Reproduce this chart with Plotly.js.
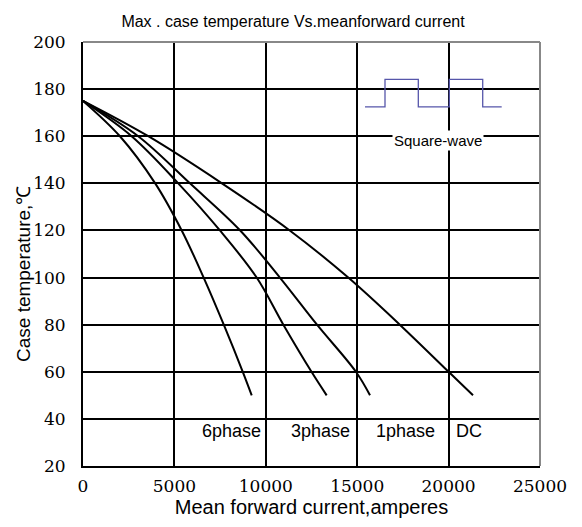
<!DOCTYPE html>
<html>
<head>
<meta charset="utf-8">
<script src="https://cdn.plot.ly/plotly-3.0.1.min.js"></script>
<style>html,body{margin:0;padding:0;background:#fff;}#chart{width:582px;height:527px;}</style>
</head>
<body>
<div id="chart"></div>
<script>
// Case temperature (°C) sample levels
var temps = [175, 160, 140, 120, 100, 80, 60, 50];
// Mean forward current (A) at each temperature level
var sixPhase   = [0, 2020, 3950, 5400, 6600, 7700, 8740, 9230];
var threePhase = [0, 2660, 5210, 7490, 9500, 10960, 12500, 13330];
var onePhase   = [0, 3020, 5850, 8600, 10770, 12800, 14930, 15700];
var dcCurrent  = [0, 3570, 7600, 11310, 14510, 17330, 20000, 21335];

var curveNames = ['6phase', '3phase', '1phase', 'DC'];
var labelX = [231, 320, 405, 454];  // label positions in px

// Inset square-wave symbol
var sqX = [15427, 16521, 16521, 18343, 18343, 20039, 20039, 21866, 21866, 22905];
var sqY = [172.5, 172.5, 184.1, 184.1, 172.5, 172.5, 184.1, 184.1, 172.5, 172.5];

var xTicks = [0, 5000, 10000, 15000, 20000, 25000];
var yTicks = [20, 40, 60, 80, 100, 120, 140, 160, 180, 200];

var L = 83, R = 540, T = 42, B = 466, W = 582, H = 527;
function px2x(px){ return (px - L) / (R - L) * 25000; }
function py2y(py){ return 200 - (py - T) / (B - T) * 180; }

var SANS = "Liberation Sans";
var SERIF = "DejaVu Serif";

var series = [sixPhase, threePhase, onePhase, dcCurrent];
var traces = series.map(function(s, i){
  return {x: s, y: temps, mode: 'lines', name: curveNames[i],
          line: {color: '#000', width: 2, shape: 'spline', smoothing: 1},
          hoverinfo: 'x+y', showlegend: false};
});
traces.push({x: sqX, y: sqY, mode: 'lines', line: {color: '#5656aa', width: 1.3},
             hoverinfo: 'skip', showlegend: false});

var annotations = curveNames.map(function(n, i){
  return {text: n, x: px2x(labelX[i]), y: py2y(431), xref: 'x', yref: 'y',
          showarrow: false, font: {family: SANS, size: 18, color: '#000'},
          xanchor: i === 3 ? 'left' : 'center', yanchor: 'middle'};
});
annotations.push({text: 'Square-wave', x: px2x(438), y: py2y(140), xref: 'x', yref: 'y',
  showarrow: false, bgcolor: '#fff', borderpad: 1,
  font: {family: SANS, size: 15, color: '#000'}});
annotations.push({text: 'Case temperature,℃', textangle: -90, x: (23 - L) / (R - L), y: (B - 274) / (B - T),
  xref: 'paper', yref: 'paper', showarrow: false, xanchor: 'center', yanchor: 'middle',
  font: {family: SANS, size: 19, color: '#000'}});

var layout = {
  width: W, height: H,
  font: {family: SANS, color: '#000'},
  margin: {l: L, r: W - R, t: T, b: H - B, pad: 0},
  paper_bgcolor: '#fff', plot_bgcolor: '#fff',
  title: {text: 'Max . case temperature Vs.meanforward current', x: (293 - L) / (R - L), xref: 'paper',
          xanchor: 'center', y: 1 - 21 / H, yanchor: 'middle',
          font: {family: SANS, size: 16, color: '#000'}},
  xaxis: {range: [0, 25000], tickvals: xTicks, ticktext: xTicks.map(String),
          showgrid: true, gridcolor: '#000', gridwidth: 2, zeroline: false,
          showline: true, linecolor: '#000', linewidth: 2,
          ticks: 'outside', ticklen: 0, ticklabelstandoff: 4,
          tickfont: {family: SERIF, size: 17, color: '#000', weight: 'normal'},
          title: {text: 'Mean forward current,amperes', standoff: 2,
                  font: {family: SANS, size: 20, color: '#000'}},
          fixedrange: true},
  yaxis: {range: [20, 200], tickvals: yTicks, ticktext: yTicks.map(String),
          showgrid: true, gridcolor: '#000', gridwidth: 2, zeroline: false,
          showline: true, linecolor: '#000', linewidth: 2,
          ticks: 'outside', ticklen: 0, ticklabelstandoff: 12,
          tickfont: {family: SERIF, size: 17, color: '#000', weight: 'normal'},
          fixedrange: true},
  shapes: [
    {type: 'rect', xref: 'x', yref: 'y', x0: 15150, x1: px2x(510), y0: py2y(127), y1: py2y(68),
     fillcolor: '#fff', line: {width: 0}, layer: 'below'},
    {type: 'rect', xref: 'x', yref: 'y', x0: px2x(378), x1: px2x(502), y0: py2y(140), y1: py2y(132),
     fillcolor: '#fff', line: {width: 0}, layer: 'below'},
    {type: 'line', xref: 'paper', yref: 'paper', x0: 0, x1: 1, y0: 1, y1: 1, line: {color: '#888', width: 2}},
    {type: 'line', xref: 'paper', yref: 'paper', x0: 1, x1: 1, y0: 0, y1: 1, line: {color: '#888', width: 2}}
  ],
  annotations: annotations
};

Plotly.newPlot('chart', traces, layout, {displayModeBar: false, staticPlot: true});
</script>
</body>
</html>
